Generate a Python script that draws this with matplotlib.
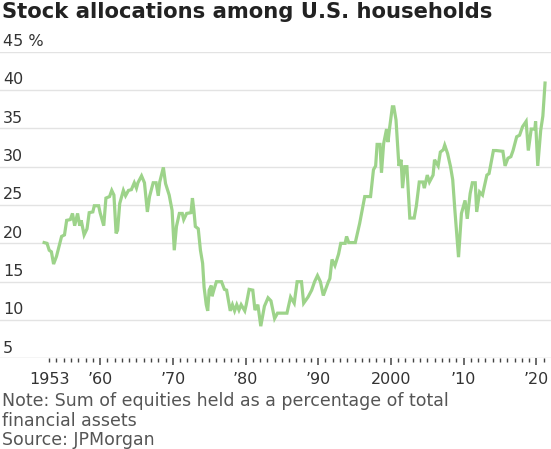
import matplotlib
matplotlib.use("Agg")
import matplotlib.pyplot as plt
import matplotlib.transforms as mtransforms

# ---------- данные ----------
years = [
    1952.3, 1952.7, 1953.0, 1953.3, 1953.6, 1954.0, 1954.7, 1955.1, 1955.4, 1955.9,
    1956.2, 1956.5, 1956.9, 1957.2, 1957.4, 1957.8, 1958.2, 1958.5, 1959.0, 1959.2,
    1959.8, 1960.0, 1960.5, 1960.8, 1961.3, 1961.6, 1961.9, 1962.2, 1962.4, 1962.7,
    1963.2, 1963.5, 1963.9, 1964.3, 1964.7, 1965.0, 1965.2, 1965.7, 1966.1, 1966.5,
    1966.8, 1967.3, 1967.7, 1968.0, 1968.2, 1968.7, 1969.0, 1969.5, 1969.9, 1970.2,
    1970.5, 1970.9, 1971.3, 1971.5, 1971.9, 1972.5, 1972.7, 1972.9, 1973.1, 1973.5,
    1973.8, 1974.1, 1974.3, 1974.6, 1974.8, 1975.0, 1975.3, 1975.4, 1975.7, 1976.0,
    1976.7, 1977.1, 1977.4, 1977.9, 1978.2, 1978.5, 1978.8, 1979.1, 1979.4, 1979.9,
    1980.1, 1980.5, 1981.0, 1981.3, 1981.7, 1982.1, 1982.6, 1983.1, 1983.5, 1984.0,
    1984.4, 1985.7, 1986.2, 1986.7, 1987.1, 1987.7, 1988.0, 1988.6, 1989.1, 1989.5,
    1989.9, 1990.3, 1990.7, 1991.4, 1991.6, 1991.9, 1992.3, 1992.8, 1993.1, 1993.7,
    1993.9, 1994.2, 1995.1, 1995.7, 1996.4, 1997.2, 1997.6, 1997.9, 1998.1, 1998.5,
    1998.7, 1999.0, 1999.4, 1999.6, 1999.8, 2000.2, 2000.4, 2000.7, 2001.1, 2001.4,
    2001.6, 2001.9, 2002.2, 2002.6, 2003.2, 2003.5, 2003.9, 2004.4, 2004.6, 2005.0,
    2005.3, 2005.8, 2006.0, 2006.5, 2006.8, 2007.2, 2007.4, 2007.8, 2008.2, 2008.5,
    2008.8, 2009.3, 2009.7, 2010.2, 2010.5, 2010.9, 2011.2, 2011.6, 2011.8, 2012.2,
    2012.6, 2012.8, 2013.2, 2013.5, 2014.1, 2014.5, 2015.4, 2015.7, 2016.1, 2016.5,
    2016.8, 2017.3, 2017.7, 2018.1, 2018.6, 2018.9, 2019.3, 2019.8, 2019.9, 2020.2,
    2020.6, 2020.9, 2021.2,
]
share = [
    20.1, 20.0, 19.1, 18.9, 17.3, 18.3, 20.9, 21.1, 23.0, 23.1,
    23.9, 22.3, 23.9, 22.3, 23.0, 21.1, 21.9, 24.0, 24.1, 24.9,
    24.9, 24.0, 22.3, 25.9, 26.1, 26.9, 26.3, 21.3, 21.7, 25.2,
    26.9, 26.2, 26.9, 27.0, 27.9, 27.2, 27.9, 28.8, 27.9, 24.1,
    26.1, 27.9, 27.9, 26.2, 28.0, 29.9, 27.8, 26.3, 24.3, 19.1,
    22.2, 23.9, 23.9, 23.1, 23.9, 24.0, 25.9, 24.3, 22.2, 21.9,
    19.1, 17.4, 14.3, 12.0, 11.2, 13.9, 14.5, 13.1, 14.1, 15.0,
    15.0, 14.0, 13.9, 11.2, 12.0, 11.2, 12.0, 11.3, 12.0, 11.2,
    12.0, 14.0, 13.9, 11.3, 12.0, 9.2, 11.8, 12.9, 12.5, 10.2,
    10.9, 10.9, 13.0, 12.2, 15.0, 15.0, 12.2, 13.0, 13.9, 15.0,
    15.8, 15.0, 13.2, 15.0, 15.4, 17.9, 17.1, 18.6, 20.0, 20.0,
    20.9, 20.1, 20.1, 22.6, 26.1, 26.1, 29.6, 30.1, 32.9, 32.9,
    29.2, 33.0, 34.9, 33.2, 34.9, 37.8, 37.8, 36.1, 30.1, 30.9,
    27.2, 30.0, 30.0, 23.3, 23.3, 24.9, 28.0, 28.0, 27.2, 28.9,
    28.0, 28.9, 30.9, 30.1, 31.9, 32.2, 32.8, 31.7, 30.0, 28.3,
    24.3, 18.2, 23.9, 25.6, 23.2, 26.5, 27.9, 27.9, 24.1, 26.7,
    26.3, 27.2, 28.9, 29.1, 32.1, 32.1, 32.0, 30.1, 31.1, 31.3,
    32.1, 33.9, 34.1, 35.2, 35.9, 32.1, 34.9, 34.9, 35.9, 30.1,
    34.7, 36.6, 40.9,
]

y_ticks = [5, 10, 15, 20, 25, 30, 35, 40, 45]
y_labels = ["5", "10", "15", "20", "25", "30", "35", "40", "45 %"]
x_ticks = [1953, 1960, 1970, 1980, 1990, 2000, 2010, 2020]
x_labels = ["1953", "\u201960", "\u201970", "\u201980", "\u201990", "2000", "\u201910", "\u201920"]

TITLE = "Stock allocations among U.S. households"
NOTE_LINES = ["Note: Sum of equities held as a percentage of total",
              "financial assets",
              "Source: JPMorgan"]

LINE_COLOR = "#9dd38a"
GRID_COLOR = "#e3e3e3"
TEXT_COLOR = "#333333"
NOTE_COLOR = "#555555"

plt.rcParams["font.family"] = ["DejaVu Sans"]

W, H = 551, 449
fig = plt.figure(figsize=(W / 100, H / 100), dpi=100)
ax = fig.add_axes([0.0, 1 - 358.4 / H, 1.0, (358.4 - 51.6) / H])

ax.plot(years, share, color=LINE_COLOR, lw=2.3, solid_joinstyle="miter", zorder=3)

ax.set_xlim(1946.23, 2022.02)
ax.set_ylim(5, 45)

# сетка
for v in y_ticks[1:]:
    ax.axhline(v, color=GRID_COLOR, lw=1.0, zorder=1)
ax.axhline(5, color="#d0d0d0", lw=1.0, zorder=1)

for s in ax.spines.values():
    s.set_visible(False)

# подписи по Y — внутри, над линиями сетки
trans = mtransforms.blended_transform_factory(fig.transFigure, ax.transData)
offset = mtransforms.ScaledTranslation(0, 2 / 72, fig.dpi_scale_trans)
for v, lab in zip(y_ticks, y_labels):
    ax.text(3 / W, v, lab, transform=trans + offset, ha="left", va="bottom",
            fontsize=11.5, color=TEXT_COLOR)
ax.set_yticks([])

# ось X: мелкие засечки по годам, крупные — по десятилетиям
ax.set_xticks(range(1960, 2021, 10))
ax.set_xticklabels([])
ax.set_xticks(range(1953, 2022), minor=True)
ax.tick_params(axis="x", which="major", length=5, width=1.1, color="#444444", pad=2)
ax.tick_params(axis="x", which="minor", length=3, width=1.0, color="#444444")

xtrans = mtransforms.blended_transform_factory(ax.transData, fig.transFigure)
for x, lab in zip(x_ticks, x_labels):
    ax.text(x, 1 - 380 / H, lab, transform=xtrans,
            ha="center", va="center", fontsize=11.5, color=TEXT_COLOR)

fig.text(2 / W, 1 - 12 / H, TITLE, ha="left", va="center", fontsize=15.2,
         fontweight="bold", color="#222222")

# примечание и источник — построчно
for k, line in enumerate(NOTE_LINES):
    fig.text(2 / W, 1 - (406 + 19.5 * k) / H, line, ha="left", va="baseline",
             fontsize=12.5, color=NOTE_COLOR)

fig.savefig("out.png", dpi=100)
